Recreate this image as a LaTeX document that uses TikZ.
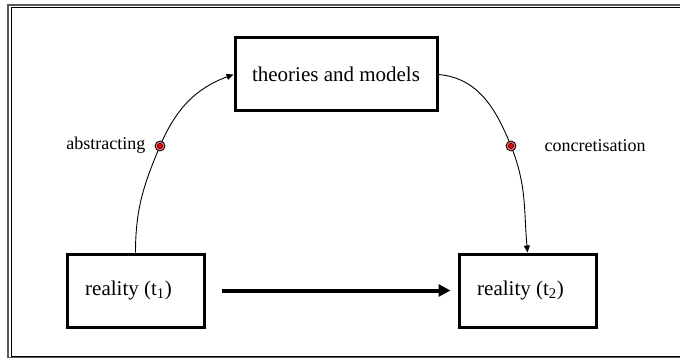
\documentclass[tikz,border=0pt]{standalone}
\usepackage{fontspec}
\setmainfont{Liberation Serif}
\usetikzlibrary{arrows.meta}
\definecolor{dotred}{RGB}{240,0,0}
\definecolor{dotpink}{RGB}{245,110,110}

\begin{document}
\begin{tikzpicture}[x=1pt,y=-1pt,
  box/.style={draw, line width=3pt, minimum height=73pt, inner sep=0pt, font=\fontsize{21}{24}\selectfont},
  lbl/.style={font=\fontsize{18}{21}\selectfont},
  dot/.style={circle, draw, line width=0.8pt, fill=dotpink, minimum size=10pt, inner sep=0pt,
    path picture={\fill[black] (path picture bounding box.center) circle (2.9pt);
                  \fill[dotred] (path picture bounding box.center) circle (2.2pt);}},
  thin/.style={line width=0.9pt, -{Triangle[length=7pt,width=6pt]}}]

\useasboundingbox (0,0) rectangle (680,358);
\clip (0,0) rectangle (680,358);

% frame
\draw[gray!70!black, line width=1.6pt] (8,5) rectangle (692,358);
\draw[line width=1pt] (11,8) rectangle (689,356);

% boxes
\node[box, minimum width=202pt] (theo) at (336,74.5) {theories and models};
\node[box, minimum width=137pt] (real1) at (135.5,290.5) {reality (t\textsubscript{1})\hspace*{14pt}};
\node[box, minimum width=137pt] (real2) at (527.5,290.5) {reality (t\textsubscript{2})\hspace*{14pt}};

% markers on the curves
\coordinate (abs) at (160,146);
\coordinate (con) at (511,146);
\node[lbl, anchor=east] (abslbl) at (149,145) {abstracting};
\node[lbl, anchor=west] (conlbl) at (541,146) {concretisation};

% connectors
\draw[line width=0.9pt] (real1.north) to[out=90,in=247] (abs);
\draw[thin] (abs) to[out=67,in=200] (theo.west);
\draw[line width=0.9pt] (theo.east) to[out=-5,in=112] (con);
\draw[thin] (con) to[out=-68,in=95] (real2.north);
\draw[line width=4pt, -{Triangle[length=12pt,width=12pt]}, shorten <=16pt, shorten >=7pt] (real1.east) -- (real2.west);

\node[dot] (absdot) at (abs) {};
\node[dot] (condot) at (con) {};

\end{tikzpicture}
\end{document}
